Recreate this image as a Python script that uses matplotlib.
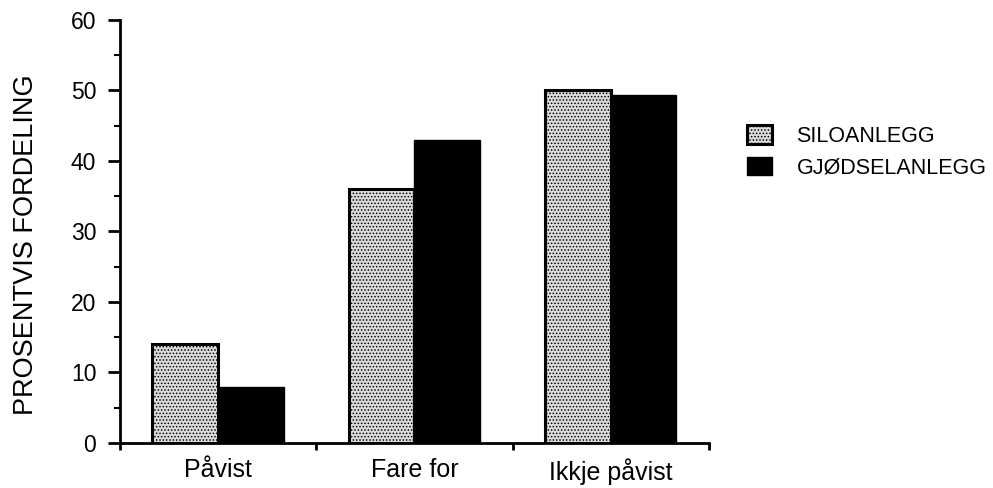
import numpy as np
import matplotlib
matplotlib.use("Agg")
import matplotlib.pyplot as plt
from matplotlib.ticker import MultipleLocator

categories = ["Påvist", "Fare for", "Ikkje påvist"]
siloanlegg = [14, 36, 50]
gjodselanlegg = [8, 43, 49.3]
series_names = ["SILOANLEGG", "GJØDSELANLEGG"]

plt.rcParams['font.family'] = ['Liberation Sans', 'DejaVu Sans']
plt.rcParams['hatch.linewidth'] = 0.7

fig = plt.figure(figsize=(9.93, 4.88), dpi=100)
ax = fig.add_axes([0.1208, 0.0922, 0.593, 0.867])

x = np.arange(len(categories))
w = 0.335
ax.bar(x - w / 2, siloanlegg, width=w, facecolor='#dcdcdc', edgecolor='black',
       hatch='.....', linewidth=2.2, label=series_names[0])
ax.bar(x + w / 2, gjodselanlegg, width=w, facecolor='black', edgecolor='black',
       linewidth=1, label=series_names[1])

ax.set_xlim(-0.5, 2.5)
ax.set_ylim(0, 60)
ax.yaxis.set_major_locator(MultipleLocator(10))
ax.yaxis.set_minor_locator(MultipleLocator(5))
ax.set_xticks([-0.5, 0.5, 1.5, 2.5])
ax.set_xticklabels([])
ax.set_xticks(x, minor=True)
ax.set_xticklabels(categories, minor=True, fontsize=18)

for s in ['top', 'right']:
    ax.spines[s].set_visible(False)
for s in ['left', 'bottom']:
    ax.spines[s].set_linewidth(2)

ax.tick_params(axis='y', which='major', direction='out', length=9, width=2, labelsize=16.5, pad=8)
ax.tick_params(axis='y', which='minor', direction='out', length=4, width=1.5)
ax.tick_params(axis='x', which='major', direction='out', length=5, width=2)
ax.tick_params(axis='x', which='minor', length=0, pad=11)

ax.set_ylabel("PROSENTVIS FORDELING", fontsize=19.5)
ax.yaxis.set_label_coords(-0.138, 0.468)

ax.legend(loc='upper left', bbox_to_anchor=(0.741, 0.765), bbox_transform=fig.transFigure,
          frameon=False, fontsize=15.5, borderpad=0, handlelength=1.16, handleheight=0.93,
          handletextpad=1.16, labelspacing=0.45)

fig.savefig("out.png", dpi=100)
